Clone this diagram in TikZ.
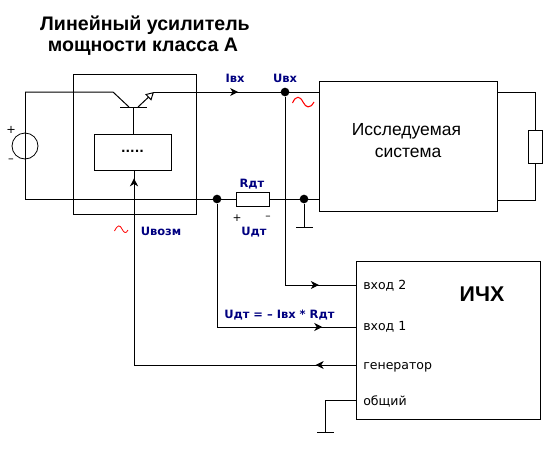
\documentclass[tikz,border=0pt]{standalone}
\usepackage{fontspec}
\setmainfont{Liberation Sans}
\newfontfamily\djv{DejaVu Sans}
\usetikzlibrary{arrows.meta,decorations.markings}
\definecolor{navyl}{RGB}{0,0,128}
\tikzset{
  wire/.style={line width=0.75pt,black},
  box/.style={draw=black,line width=0.75pt,fill=white,minimum width=0pt,minimum height=0pt,inner sep=0pt},
  dot/.style={circle,fill=black,inner sep=0pt,minimum size=6.5pt},
  midarrow/.style={postaction={decorate,decoration={markings,mark=at position #1 with {\arrow{Stealth[length=6pt,width=6pt,inset=1.8pt]}}}}},
  blue label/.style={text=navyl,font=\djv\bfseries\fontsize{8.6pt}{10pt}\selectfont,inner sep=0pt},
  port/.style={anchor=west,font=\djv\fontsize{9.4pt}{10pt}\selectfont,inner sep=0pt},
  tilde/.style={red,line width=0.6pt}
}
\begin{document}
\begin{tikzpicture}[x=0.75pt,y=-0.75pt]
\useasboundingbox (0,0) rectangle (555,450);
% corner coordinates
\coordinate (tl) at (25,92);
\coordinate (bl) at (25,199);
\coordinate (em) at (113,92);
\coordinate (bj) at (129,107);
\coordinate (bcl) at (120,107);
\coordinate (bcr) at (147,107);
\coordinate (bcm) at (133,107);
\coordinate (cj) at (138,107);
\coordinate (col) at (154,92);
\coordinate (sysTL) at (319,92);
\coordinate (sysBL) at (319,199);
\coordinate (sysTR) at (497,92);
\coordinate (sysBR) at (497,200);
\coordinate (rt) at (535,92);
\coordinate (rb) at (535,200);
\coordinate (gnd1) at (304,227);
\coordinate (gnd1l) at (296,227);
\coordinate (gnd1r) at (313,227);
\coordinate (c2) at (285,285);
\coordinate (c1) at (217,327);
\coordinate (cg) at (134,365);
\coordinate (c0) at (325,400);
\coordinate (gnd2) at (325,432);
\coordinate (gnd2l) at (317,432);
\coordinate (gnd2r) at (334,432);
% boxes
\node[box,minimum width=92.25pt,minimum height=105pt] (amp) at (134.5,144) {};
\node[box,minimum width=57.75pt,minimum height=27pt] (drv) at (132.5,152) {};
\node[font=\djv\bfseries\fontsize{9pt}{10pt}\selectfont,inner sep=0pt] (dots) at (132.5,151) {.....};
\node[box,minimum width=133.5pt,minimum height=97.5pt] (sys) at (408,146) {};
\node[font=\fontsize{13.1pt}{14pt}\selectfont,inner sep=0pt] (t1) at (406.5,131.5) {Исследуемая};
\node[font=\fontsize{13.1pt}{14pt}\selectfont,inner sep=0pt] (t2) at (408,153) {система};
\node[box,minimum width=138pt,minimum height=118.5pt] (ich) at (448,340) {};
% wires
\draw[wire,midarrow=0.51] (col) -- (sysTL);
\draw[wire] (bl) -- (sysBL);
\draw[wire] (tl) -- (em) -- (bj);
\draw[wire,-{Triangle[open,length=6pt,width=6.5pt]}] (cj) -- (col);
\draw[wire] (bcl) -- (bcr);
\draw[wire] (bcm) -- (drv.north -| bcm);
\draw[wire] (tl) -- (bl);
\node[circle,draw=black,line width=0.6pt,fill=white,minimum size=19.5pt,inner sep=0pt] (src) at (25,146) {};
\draw[wire] (src.north) -- (src.south);
\draw[wire] (sysTR) -- (rt) -- (rb) -- (sysBR);
\node[box,minimum width=10.5pt,minimum height=24.75pt] (load) at (535,146.5) {};
\node[box,minimum width=24.75pt,minimum height=10.5pt] (rdt) at (252.5,199) {};
\node[dot] (n1) at (217,199) {};
\node[dot] (n2) at (285,92) {};
\node[dot] (n3) at (304,199) {};
\draw[wire] (n3) -- (gnd1);
\draw[wire] (gnd1l) -- (gnd1r);
\draw[wire] (n2) |- (c2);
\draw[wire,midarrow=0.48] (c2) -- (c2 -| ich.west);
\draw[navyl,line width=0.75pt] (243,327) -- (267,327);
\draw[wire] (n1) -- (c1);
\draw[wire,midarrow=0.76] (c1) -- (c1 -| ich.west);
\draw[wire,midarrow=0.18] (ich.west |- cg) -- (cg);
\draw[wire,midarrow=0.96] (cg) -- (drv.south -| cg);
\draw[wire] (ich.west |- c0) -- (c0) -- (gnd2);
\draw[wire] (gnd2l) -- (gnd2r);
% labels
\node[font=\bfseries\fontsize{14.7pt}{15pt}\selectfont,inner sep=0pt] (ti1) at (145,25) {Линейный усилитель};
\node[font=\bfseries\fontsize{14.7pt}{15pt}\selectfont,inner sep=0pt] (ti2) at (143,47) {мощности класса А};
\node[blue label] (ibx) at (235,78) {Iвх};
\node[blue label] (ubx) at (285,78) {Uвх};
\node[blue label] (rd) at (252,184) {Rдт};
\node[blue label] (ud) at (254,232) {Uдт};
\node[blue label] (uvoz) at (161,231) {Uвозм};
\node[blue label,anchor=west] (ueq) at (224,315) {Uдт = – Iвх * Rдт};
\node[font=\djv\fontsize{8pt}{10pt}\selectfont,inner sep=0pt] (p1) at (237,218) {+};
\node[font=\djv\fontsize{8pt}{10pt}\selectfont,inner sep=0pt] (m1) at (268,218) {–};
\node[font=\djv\fontsize{8.5pt}{10pt}\selectfont,inner sep=0pt] (p2) at (11,130) {+};
\node[font=\djv\fontsize{8.5pt}{10pt}\selectfont,inner sep=0pt] (m2) at (11,161) {–};
\node[port] (v2) at (363,286) {вход 2};
\node[port] (v1) at (363,327) {вход 1};
\node[port] (gen) at (363,367) {генератор};
\node[port] (ob) at (363,401) {общий};
\node[font=\bfseries\fontsize{16pt}{18pt}\selectfont,inner sep=0pt] (ichl) at (482,294) {ИЧХ};
% tildes
\draw[tilde] (114.5,231) .. controls (118,224) and (120,225) .. (122,229) .. controls (124,233) and (126,234) .. (128,230);
\draw[tilde,line width=0.8pt] (292.5,103) .. controls (296,95) and (300,96) .. (303,102) .. controls (306,108) and (310,109) .. (314,102);
\end{tikzpicture}
\end{document}
